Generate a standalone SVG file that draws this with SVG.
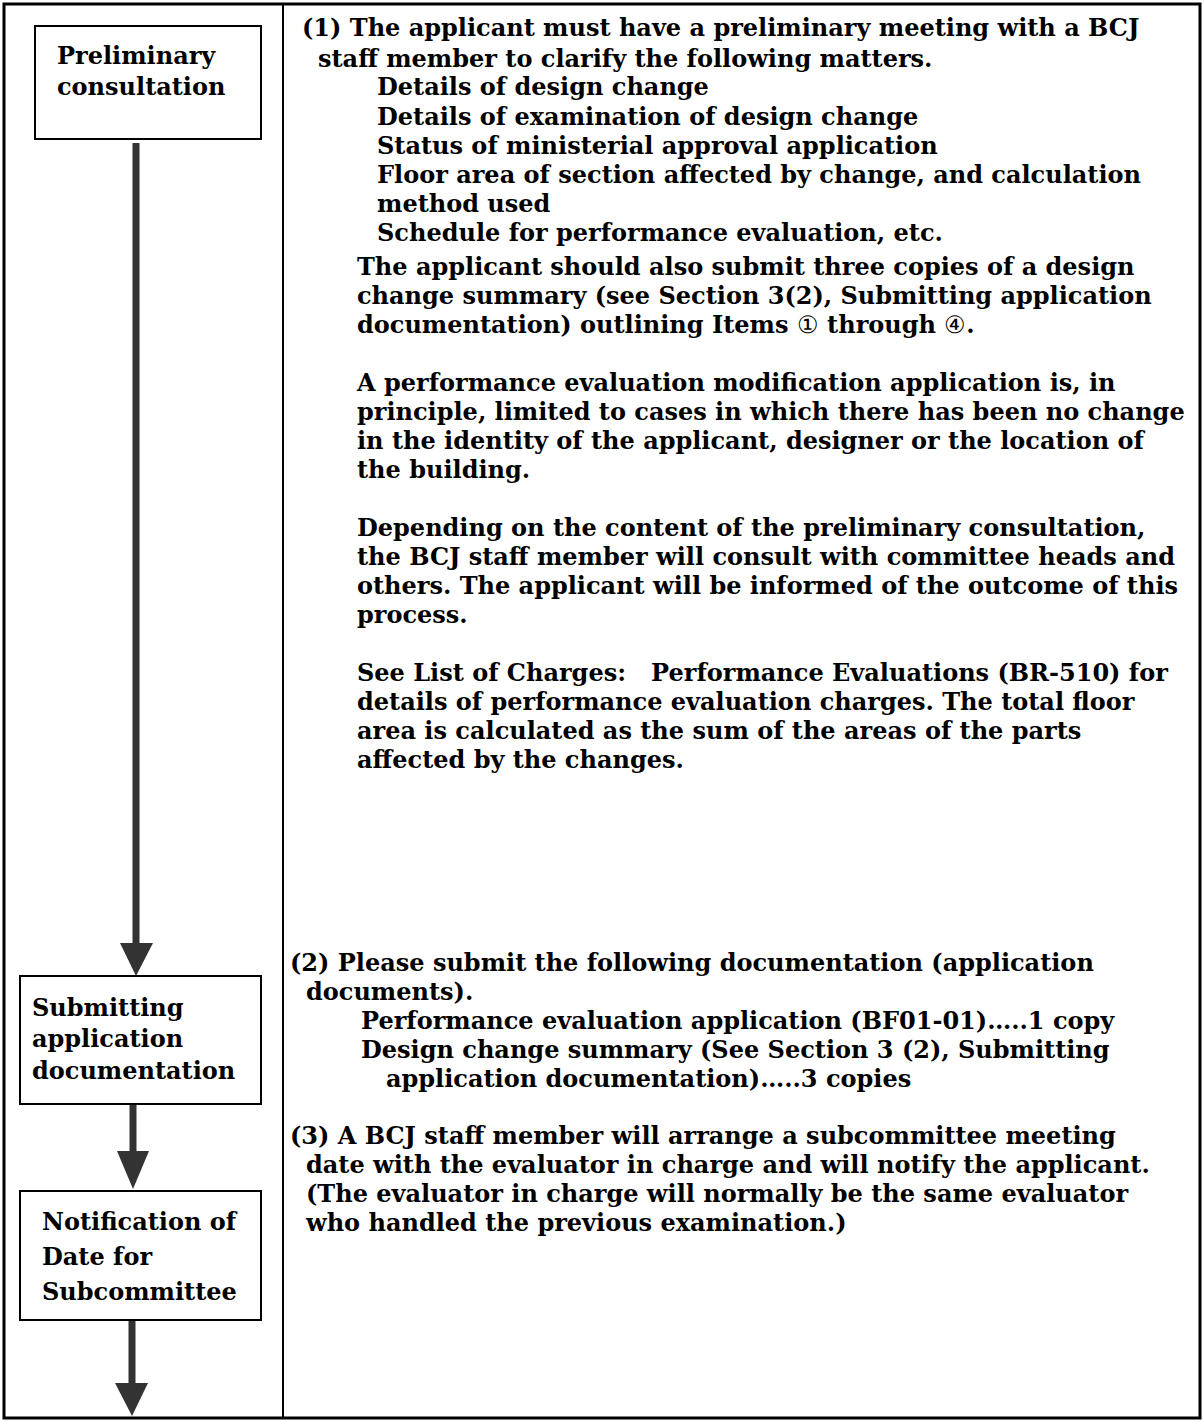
<svg xmlns="http://www.w3.org/2000/svg" width="1204" height="1421" viewBox="0 0 1204 1421">
<style>
  .t { font-family: "DejaVu Serif", "Liberation Serif", serif; font-size: 24px; font-weight: bold; fill: #000; }
  .c { font-weight: normal; }
  .box { fill: #fff; stroke: #000; stroke-width: 2; }
  .frame { fill: none; stroke: #000; stroke-width: 3; }
  .shaft { stroke: #333; stroke-width: 7; }
  .head { fill: #333; }
</style>
<rect width="1204" height="1421" fill="#fff"/>
<g id="frame">
  <rect class="frame" x="4" y="4" width="1196" height="1414"/>
  <line x1="283" y1="4" x2="283" y2="1418" stroke="#000" stroke-width="2"/>
</g>
<g id="connectors">
  <line class="shaft" x1="136" y1="143" x2="136" y2="946"/>
  <polygon class="head" points="120,943 153,943 136,976"/>
  <line class="shaft" x1="133" y1="1104" x2="133" y2="1154"/>
  <polygon class="head" points="117,1151 149,1151 133,1189"/>
  <line class="shaft" x1="132" y1="1320" x2="132" y2="1386"/>
  <polygon class="head" points="115,1383 148,1383 132,1416"/>
</g>
<g id="node-preliminary">
  <rect class="box" x="35" y="26" width="226" height="113"/>
  <text class="t" x="57" y="64">Preliminary</text>
  <text class="t" x="57" y="95">consultation</text>
</g>
<g id="node-submitting">
  <rect class="box" x="20" y="976" width="241" height="128"/>
  <text class="t" x="32" y="1016">Submitting</text>
  <text class="t" x="32" y="1047">application</text>
  <text class="t" x="32" y="1079">documentation</text>
</g>
<g id="node-notification">
  <rect class="box" x="20" y="1191" width="241" height="129"/>
  <text class="t" x="42" y="1230">Notification of</text>
  <text class="t" x="42" y="1265">Date for</text>
  <text class="t" x="42" y="1300">Subcommittee</text>
</g>
<g id="desc-1">
  <text class="t" x="302" y="36">(1) The applicant must have a preliminary meeting with a BCJ</text>
  <text class="t" x="318" y="67">staff member to clarify the following matters.</text>
  <text class="t" x="377" y="95">Details of design change</text>
  <text class="t" x="377" y="125">Details of examination of design change</text>
  <text class="t" x="377" y="154">Status of ministerial approval application</text>
  <text class="t" x="377" y="183">Floor area of section affected by change, and calculation</text>
  <text class="t" x="377" y="212">method used</text>
  <text class="t" x="377" y="241">Schedule for performance evaluation, etc.</text>
  <text class="t" x="357" y="275">The applicant should also submit three copies of a design</text>
  <text class="t" x="357" y="304">change summary (see Section 3(2), Submitting application</text>
  <text class="t" x="357" y="333">documentation) outlining Items <tspan class="c">①</tspan> through <tspan class="c">④</tspan>.</text>
  <text class="t" x="357" y="391">A performance evaluation modification application is, in</text>
  <text class="t" x="357" y="420">principle, limited to cases in which there has been no change</text>
  <text class="t" x="357" y="449">in the identity of the applicant, designer or the location of</text>
  <text class="t" x="357" y="478">the building.</text>
  <text class="t" x="357" y="536">Depending on the content of the preliminary consultation,</text>
  <text class="t" x="357" y="565">the BCJ staff member will consult with committee heads and</text>
  <text class="t" x="357" y="594">others. The applicant will be informed of the outcome of this</text>
  <text class="t" x="357" y="623">process.</text>
  <text class="t" x="357" y="681" xml:space="preserve">See List of Charges:   Performance Evaluations (BR-510) for</text>
  <text class="t" x="357" y="710">details of performance evaluation charges. The total floor</text>
  <text class="t" x="357" y="739">area is calculated as the sum of the areas of the parts</text>
  <text class="t" x="357" y="768">affected by the changes.</text>
</g>
<g id="desc-2">
  <text class="t" x="290" y="971">(2) Please submit the following documentation (application</text>
  <text class="t" x="306" y="1000">documents).</text>
  <text class="t" x="361" y="1029">Performance evaluation application (BF01-01)…..1 copy</text>
  <text class="t" x="361" y="1058">Design change summary (See Section 3 (2), Submitting</text>
  <text class="t" x="386" y="1087">application documentation)…..3 copies</text>
</g>
<g id="desc-3">
  <text class="t" x="290" y="1144">(3) A BCJ staff member will arrange a subcommittee meeting</text>
  <text class="t" x="306" y="1173">date with the evaluator in charge and will notify the applicant.</text>
  <text class="t" x="306" y="1202">(The evaluator in charge will normally be the same evaluator</text>
  <text class="t" x="306" y="1231">who handled the previous examination.)</text>
</g>
</svg>
